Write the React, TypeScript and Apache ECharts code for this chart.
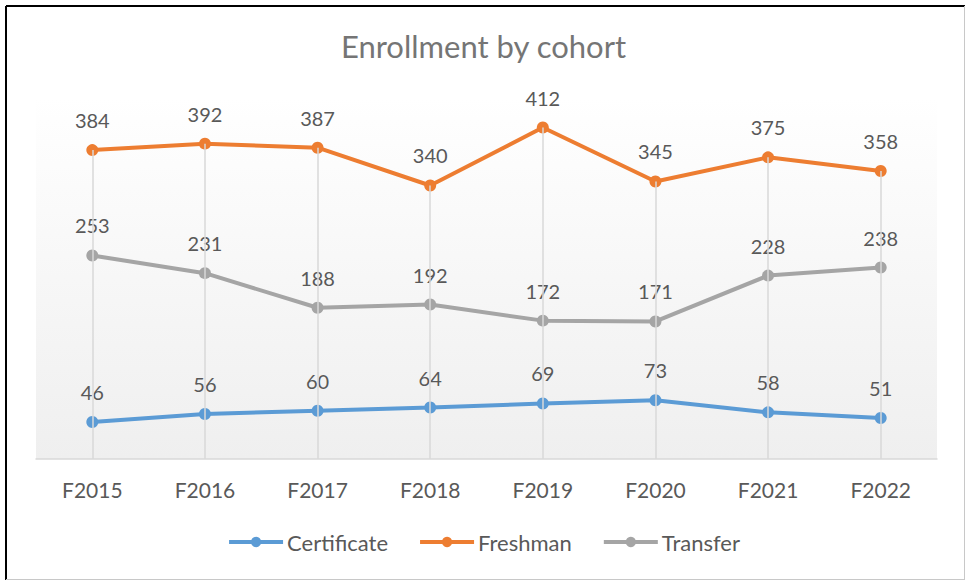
import React, { useEffect, useRef } from "react";
import * as echarts from "echarts";

const categories = ["F2015", "F2016", "F2017", "F2018", "F2019", "F2020", "F2021", "F2022"];
const certificate = [46, 56, 60, 64, 69, 73, 58, 51];
const freshman = [384, 392, 387, 340, 412, 345, 375, 358];
const transfer = [253, 231, 188, 192, 172, 171, 228, 238];
const seriesNames = ["Certificate", "Freshman", "Transfer"];

const FONT = "Lato, 'Noto Sans', sans-serif";
const TEXT = "#595959";

export default function App() {
  const ref = useRef<HTMLDivElement>(null);
  useEffect(() => {
    if (!ref.current) return;
    const chart = echarts.init(ref.current, undefined, { renderer: "svg" });
    const tops = categories.map((_, i) => Math.max(certificate[i], freshman[i], transfer[i]));
    const mkSeries = (name: string, data: number[], color: string) => ({
      name,
      type: "line",
      data,
      z: 3,
      symbol: "circle",
      symbolSize: 12,
      itemStyle: { color },
      lineStyle: { color, width: 4 },
      label: {
        show: true,
        position: "top",
        distance: 14,
        fontSize: 20,
        color: TEXT,
        fontFamily: FONT,
      },
    });
    chart.setOption({
      animation: false,
      backgroundColor: "#ffffff",
      title: {
        text: "Enrollment by cohort",
        left: "center",
        top: 25,
        textStyle: { fontSize: 31, fontWeight: "normal", color: "#757575", fontFamily: FONT },
      },
      legend: {
        data: seriesNames,
        top: 526,
        left: "center",
        itemWidth: 54,
        itemHeight: 13,
        itemGap: 30,
        lineStyle: { width: 4 },
        textStyle: { fontSize: 22, color: TEXT, fontFamily: FONT, padding: [0, 0, 0, -1] },
      },
      grid: {
        left: 36,
        right: 30,
        top: 97,
        bottom: 122,
        show: true,
        borderWidth: 0,
        backgroundColor: new echarts.graphic.LinearGradient(0, 0, 0, 1, [
          { offset: 0, color: "#ffffff" },
          { offset: 1, color: "#efefef" },
        ]),
      },
      xAxis: {
        type: "category",
        data: categories,
        boundaryGap: true,
        axisLine: { lineStyle: { color: "#d9d9d9", width: 1.5 } },
        axisTick: { show: false },
        axisLabel: { fontSize: 21, color: TEXT, fontFamily: FONT, margin: 20 },
        splitLine: { show: false },
      },
      yAxis: {
        type: "value",
        min: 0,
        max: 450,
        interval: 50,
        show: false,
        splitLine: { show: false },
      },
      graphic: [
        { type: "line", shape: { x1: 6, y1: 6, x2: 965, y2: 6 }, style: { stroke: "#000", lineWidth: 2 }, z: 10 },
        { type: "line", shape: { x1: 6, y1: 6, x2: 6, y2: 580 }, style: { stroke: "#000", lineWidth: 2 }, z: 10 },
        { type: "line", shape: { x1: 964.5, y1: 6, x2: 964.5, y2: 580 }, style: { stroke: "#c8c8c8", lineWidth: 1 }, z: 10 },
        { type: "line", shape: { x1: 6, y1: 579.5, x2: 965, y2: 579.5 }, style: { stroke: "#c8c8c8", lineWidth: 1 }, z: 10 },
      ],
      series: [
        {
          name: "drop",
          type: "line",
          data: tops,
          z: 1,
          symbol: "none",
          silent: true,
          lineStyle: { opacity: 0 },
          tooltip: { show: false },
          markLine: {
            silent: true,
            symbol: "none",
            label: { show: false },
            lineStyle: { color: "#d9d9d9", width: 1.5, type: "solid" },
            data: tops.map((v, i) => [
              { coord: [i, 0] },
              { coord: [i, v] },
            ]),
          },
        },
        mkSeries("Certificate", certificate, "#5b9bd5"),
        mkSeries("Freshman", freshman, "#ed7d31"),
        mkSeries("Transfer", transfer, "#a5a5a5"),
      ],
    });
    return () => chart.dispose();
  }, []);
  return (
    <div
      ref={ref}
      style={{ position: "absolute", left: 0, top: 0, width: 967, height: 581 }}
    />
  );
}
